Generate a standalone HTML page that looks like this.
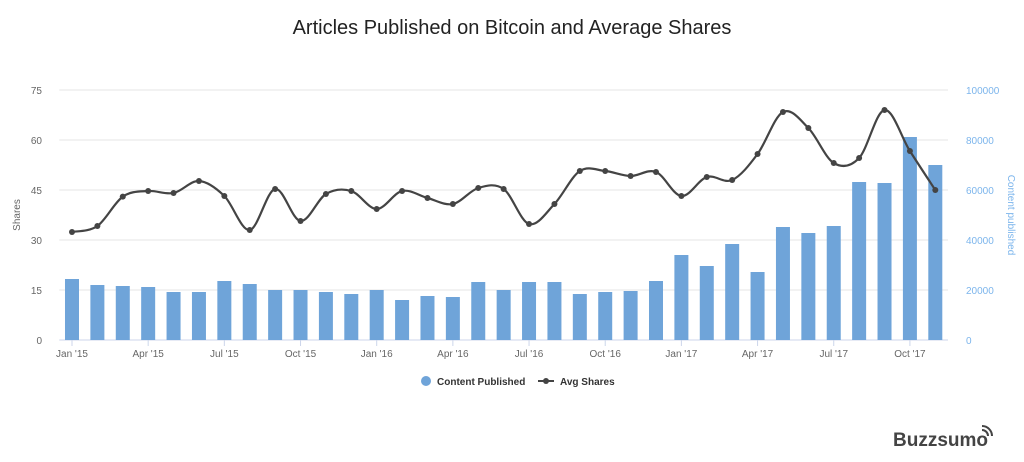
<!DOCTYPE html>
<html><head><meta charset="utf-8"><style>
body{margin:0;background:#fff;width:1024px;height:457px;overflow:hidden;font-family:"Liberation Sans",sans-serif}
</style></head><body>
<svg id="c" width="1024" height="457" xmlns="http://www.w3.org/2000/svg">
<text x="512" y="34" text-anchor="middle" font-size="20" fill="#222">Articles Published on Bitcoin and Average Shares</text>
<g id="grid"></g><g id="bars"></g><g id="line"></g><g id="axes"></g>
<g>
<g><circle cx="426" cy="381" r="5" fill="#6fa4d9"/><text x="437" y="385" font-size="10" font-weight="bold" fill="#333">Content Published</text></g>
<g><line x1="538" y1="381" x2="554" y2="381" stroke="#444" stroke-width="2"/><circle cx="546" cy="381" r="3" fill="#444"/><text x="560" y="385" font-size="10" font-weight="bold" fill="#333">Avg Shares</text></g>
</g>
<g><text x="893" y="446" font-size="19" font-weight="bold" fill="#444">Buzzsumo</text>
<path d="M982 430 a6 6 0 0 1 6 6 M982 426 a10 10 0 0 1 10 10" stroke="#444" stroke-width="2" fill="none"/></g>
</svg>
<script>
const months=["Jan '15","Feb","Mar","Apr '15","May","Jun","Jul '15","Aug","Sep","Oct '15","Nov","Dec","Jan '16","Feb","Mar","Apr '16","May","Jun","Jul '16","Aug","Sep","Oct '16","Nov","Dec","Jan '17","Feb","Mar","Apr '17","May","Jun","Jul '17","Aug","Sep","Oct '17","Nov"];
const content=[24400,22000,21600,21200,19200,19200,23600,22400,20000,20000,19200,18400,20000,16000,17600,17200,23200,20000,23200,23200,18400,19200,19600,23600,34000,29600,38400,27200,45200,42800,45600,63200,62800,81200,70000];
const shares=[32.4,34.2,43,44.7,44.1,47.7,43.2,33,45.3,35.7,43.8,44.7,39.3,44.7,42.6,40.8,45.6,45.3,34.8,40.8,50.7,50.7,49.2,50.4,43.2,48.9,48,55.8,68.4,63.6,53.1,54.6,69,56.7,45];
const leftTicks=[0,15,30,45,60,75];
const rightTicks=[0,20000,40000,60000,80000,100000];
const NS="http://www.w3.org/2000/svg";
const X0=59.3,X1=948,Y0=340,Y1=90;
const bw=(X1-X0)/months.length;
const xc=i=>X0+bw*(i+0.5);
const yL=v=>Y0-(v/75)*(Y0-Y1);
const yR=v=>Y0-(v/100000)*(Y0-Y1);
function mk(t,a,p){const e=document.createElementNS(NS,t);for(const k in a)e.setAttribute(k,a[k]);p.appendChild(e);return e;}
const grid=document.getElementById('grid'),axes=document.getElementById('axes');
leftTicks.forEach(v=>{
 const l=mk('line',{x1:X0,x2:X1,y1:yL(v),y2:yL(v),stroke:v===0?'#ccd6eb':'#e6e6e6'},grid);
 
 
 const t=mk('text',{x:42,y:yL(v)+4,'text-anchor':'end','font-size':10,fill:'#666'},axes);t.textContent=v;
 
 
});
rightTicks.forEach(v=>{
 const t=mk('text',{x:966,y:yR(v)+4,'font-size':10,fill:'#7cb5ec'},axes);t.textContent=v;
 
 
});
let t=mk('text',{x:0,y:0,'font-size':10,fill:'#666','text-anchor':'middle',transform:'translate(20,215) rotate(-90)'},axes);t.textContent='Shares';


t=mk('text',{x:0,y:0,'font-size':10,fill:'#7cb5ec','text-anchor':'middle',transform:'translate(1008,215) rotate(90)'},axes);t.textContent='Content published';


months.forEach((m,i)=>{
 if(i%3===0){
  mk('line',{x1:xc(i),x2:xc(i),y1:Y0,y2:Y0+6,stroke:'#ccd6eb'},axes);
  const tx=mk('text',{x:xc(i),y:Y0+17,'text-anchor':'middle','font-size':10,fill:'#666'},axes);tx.textContent=m;
  
  
 }
});
const bars=document.getElementById('bars');
content.forEach((v,i)=>{
 const r=mk('rect',{x:xc(i)-7,width:14,y:yR(v),height:Y0-yR(v),fill:'#6fa4d9'},bars);
 
 
});
const lg=document.getElementById('line');
const pts=shares.map((v,i)=>[xc(i),yL(v)]);
let d='M'+pts[0][0]+','+pts[0][1];
for(let i=0;i<pts.length-1;i++){
 const p0=pts[Math.max(i-1,0)],p1=pts[i],p2=pts[i+1],p3=pts[Math.min(i+2,pts.length-1)];
 const c1=[p1[0]+(p2[0]-p0[0])/6,p1[1]+(p2[1]-p0[1])/6],c2=[p2[0]-(p3[0]-p1[0])/6,p2[1]-(p3[1]-p1[1])/6];
 d+=` C${c1[0]},${c1[1]} ${c2[0]},${c2[1]} ${p2[0]},${p2[1]}`;
}
const path=mk('path',{d:d,fill:'none',stroke:'#444',"stroke-width":2.2},lg);


pts.forEach(p=>{
 const c=mk('circle',{cx:p[0],cy:p[1],r:3,fill:'#444'},lg);
 
 
});
</script>
</body></html>
